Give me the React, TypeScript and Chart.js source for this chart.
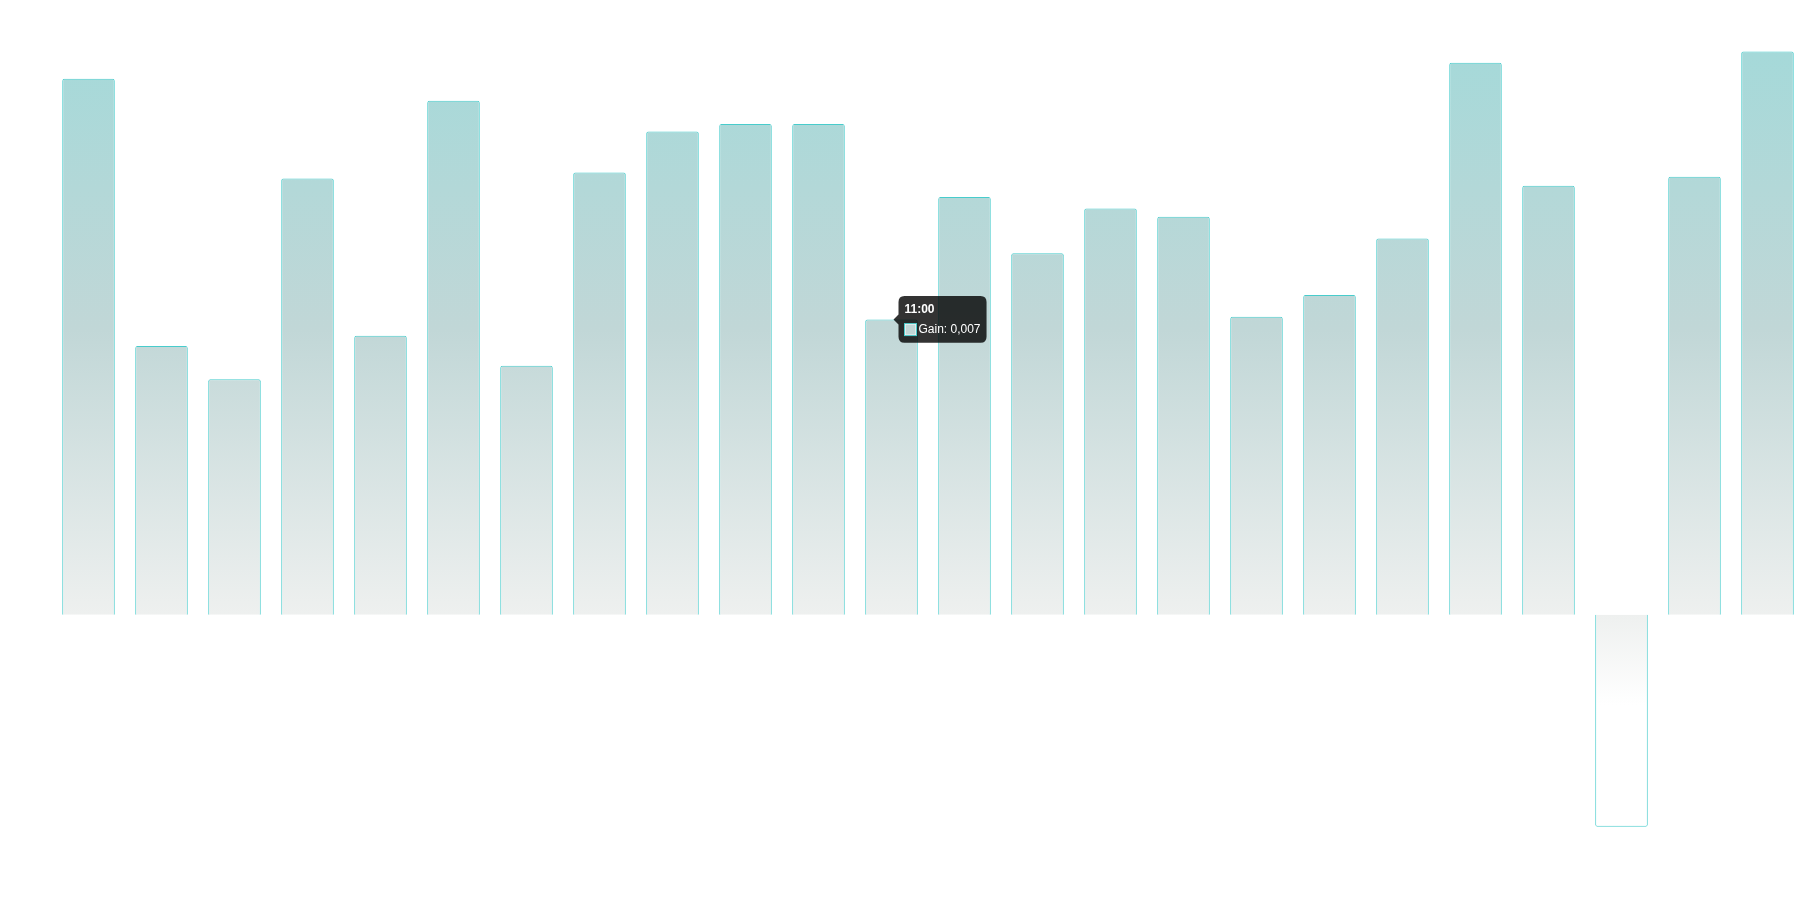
import React, { useEffect, useRef } from "react";
import { Chart, registerables } from "chart.js";

Chart.register(...registerables);

const labels: string[] = [
  "0:00", "1:00", "2:00", "3:00", "4:00", "5:00", "6:00", "7:00",
  "8:00", "9:00", "10:00", "11:00", "12:00", "13:00", "14:00", "15:00",
  "16:00", "17:00", "18:00", "19:00", "20:00", "21:00", "22:00", "23:00",
];

const gain: number[] = [
  0.0127, 0.00637, 0.00558, 0.01034, 0.00661, 0.01218, 0.0059, 0.01048,
  0.01145, 0.01163, 0.01163, 0.007, 0.0099, 0.00857, 0.00963, 0.00943,
  0.00706, 0.00758, 0.00892, 0.01308, 0.01017, -0.00502, 0.01038, 0.01335,
];

const seriesLabel = "Gain";
const activeIndex = 11;
const yMin = -0.006;
const yMax = 0.014;

export default function App() {
  const canvasRef = useRef<HTMLCanvasElement | null>(null);

  useEffect(() => {
    const canvas = canvasRef.current;
    if (!canvas) return;
    const ctx = canvas.getContext("2d")!;
    const grad = ctx.createLinearGradient(0, 50, 0, 705);
    grad.addColorStop(0, "#a5d9d9");
    grad.addColorStop(0.427, "#c1d7d7");
    grad.addColorStop(0.861, "#eef0ef");
    grad.addColorStop(1, "#ffffff");

    const chart = new Chart(ctx, {
      type: "bar",
      data: {
        labels,
        datasets: [
          {
            label: seriesLabel,
            data: gain,
            backgroundColor: grad,
            hoverBackgroundColor: grad,
            borderColor: "#48cccc",
            hoverBorderColor: "#48cccc",
            borderWidth: 1,
            borderRadius: 2,
          },
        ],
      },
      options: {
        animation: false,
        responsive: false,
        maintainAspectRatio: false,
        locale: "de-DE",
        layout: { padding: { left: 52, right: 1, top: 24, bottom: 34 } },
        scales: {
          x: { display: false },
          y: { display: false, min: yMin, max: yMax },
        },
        plugins: {
          legend: { display: false },
          tooltip: {
            callbacks: {
              label: (c: any) =>
                `${c.dataset.label}: ${Number(c.raw).toLocaleString("de-DE")}`,
            },
          },
        },
      },
    });

    const el: any = chart.getDatasetMeta(0).data[activeIndex];
    chart.tooltip!.setActiveElements([{ datasetIndex: 0, index: activeIndex }], {
      x: el.x,
      y: el.y,
    });
    chart.update();

    return () => chart.destroy();
  }, []);

  return (
    <div style={{ position: "absolute", left: 0, top: 0, width: 1805, height: 902 }}>
      <canvas ref={canvasRef} width={1805} height={902} style={{ display: "block" }} />
    </div>
  );
}
